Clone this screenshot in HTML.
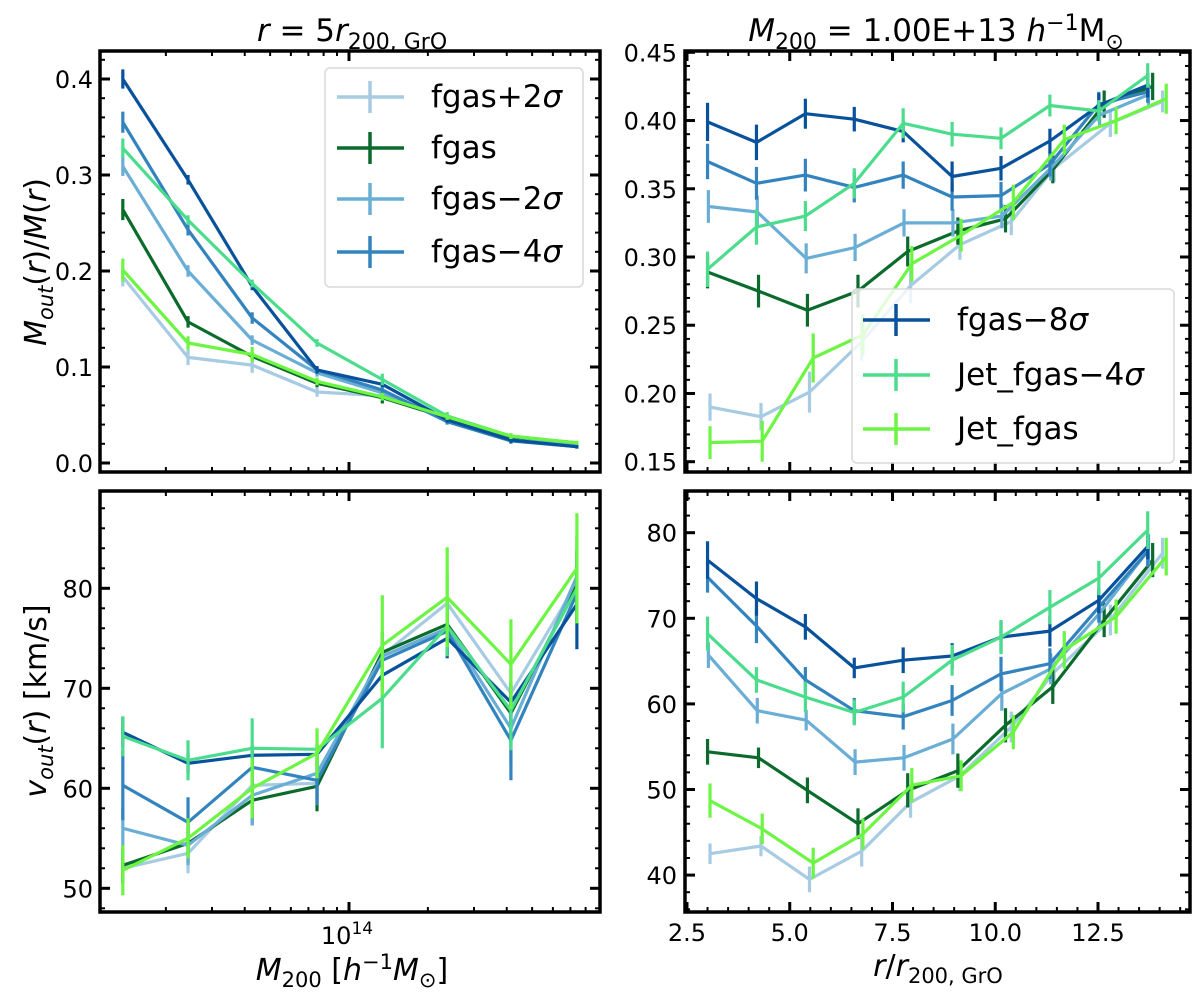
<!DOCTYPE html>
<html><head><meta charset="utf-8">
<style>
html,body{margin:0;padding:0;background:#fff;}
svg{display:block;font-family:"DejaVu Sans","Liberation Sans",sans-serif;}
</style></head>
<body>
<svg id="fig" width="1200" height="1002" viewBox="0 0 1200 1002" xmlns="http://www.w3.org/2000/svg">
<g id="layer-data"></g>
<g id="layer-axes"></g>
<g id="layer-text">
  <text x="352" y="41" font-size="31" text-anchor="middle"><tspan font-style="italic">r</tspan> = 5<tspan font-style="italic">r</tspan><tspan font-size="22" dy="8">200, GrO</tspan></text>
  <text x="936" y="41" font-size="31" text-anchor="middle"><tspan font-style="italic">M</tspan><tspan font-size="22" dy="8">200</tspan><tspan dy="-8"> = 1.00E+13 </tspan><tspan font-style="italic">h</tspan><tspan font-size="22" dy="-11">−1</tspan><tspan dy="11">M</tspan><tspan font-size="22" dy="8">⊙</tspan></text>
  <text transform="translate(46,262) rotate(-90)" font-size="30" text-anchor="middle"><tspan font-style="italic">M</tspan><tspan font-style="italic" font-size="21" dy="7">out</tspan><tspan dy="-7">(</tspan><tspan font-style="italic">r</tspan>)/<tspan font-style="italic">M</tspan>(<tspan font-style="italic">r</tspan>)</text>
  <text transform="translate(46,701) rotate(-90)" font-size="30" text-anchor="middle"><tspan font-style="italic">v</tspan><tspan font-style="italic" font-size="21" dy="7">out</tspan><tspan dy="-7">(</tspan><tspan font-style="italic">r</tspan>) [km/s]</text>
  <text x="352" y="980" font-size="30" text-anchor="middle"><tspan font-style="italic">M</tspan><tspan font-size="21" dy="7">200</tspan><tspan dy="-7"> [</tspan><tspan font-style="italic">h</tspan><tspan font-size="21" dy="-11">−1</tspan><tspan dy="11" font-style="italic">M</tspan><tspan font-size="21" dy="7">⊙</tspan><tspan dy="-7">]</tspan></text>
  <text x="938" y="976" font-size="30" text-anchor="middle"><tspan font-style="italic">r</tspan>/<tspan font-style="italic">r</tspan><tspan font-size="21" dy="7">200, GrO</tspan></text>
</g>
</svg>
<script>
// ---------- data ----------
const seriesBase = ["fgas+2","fgas","fgas−2","fgas−4","fgas−8","Jet_fgas−4","Jet_fgas"];
const seriesSigma = [true,false,true,true,true,true,false];
const seriesColors = ["#a6cbe3","#0b6b2c","#6aaed6","#3383be","#08529c","#4bdc8c","#6cf542"];

// mass bins (units of 1e13 h^-1 Msun)
const massBins = [1.37,2.43,4.27,7.55,13.4,23.7,41.5,74.1];

// top-left: Mout/M at r=5 r200
const tlFgasP2 = [0.194,0.110,0.102,0.074,0.070,0.047,0.026,0.020];
const tlFgas   = [0.264,0.147,0.111,0.083,0.068,0.047,0.027,0.021];
const tlFgasM2 = [0.309,0.200,0.128,0.094,0.073,0.045,0.024,0.019];
const tlFgasM4 = [0.355,0.243,0.151,0.097,0.076,0.043,0.023,0.017];
const tlFgasM8 = [0.400,0.295,0.184,0.097,0.082,0.045,0.024,0.017];
const tlJetM4  = [0.328,0.253,0.187,0.125,0.087,0.049,0.028,0.021];
const tlJet    = [0.201,0.125,0.113,0.085,0.069,0.048,0.028,0.021];
const tlErrP2 = [0.010,0.008,0.008,0.005,0.004,0.004,0.003,0.002];
const tlErr   = [0.011,0.006,0.004,0.004,0.006,0.003,0.002,0.002];
const tlErrM2 = [0.010,0.006,0.005,0.004,0.003,0.003,0.002,0.002];
const tlErrM4 = [0.011,0.006,0.006,0.003,0.003,0.003,0.003,0.002];
const tlErrM8 = [0.010,0.005,0.004,0.004,0.003,0.003,0.003,0.002];
const tlErrJ4 = [0.010,0.005,0.004,0.004,0.006,0.004,0.003,0.002];
const tlErrJ  = [0.012,0.007,0.008,0.004,0.004,0.003,0.003,0.002];

// top-right: Mout/M vs radius for M200=1e13
const trXFgasP2 = [3.06,4.30,5.48,6.75,7.94,9.14,10.39,11.43,12.80,14.07];
const trXFgas   = [3.00,4.24,5.43,6.66,7.87,9.09,10.25,11.40,12.65,13.83];
const trXFgasM2 = [3.02,4.21,5.40,6.59,7.78,8.97,10.16,11.35,12.54,13.73];
const trXBase   = [3.00,4.19,5.38,6.57,7.76,8.95,10.14,11.33,12.52,13.71];
const trXJet    = [3.06,4.33,5.57,6.78,7.97,9.17,10.44,11.68,12.94,14.16];
const trFgasP2 = [0.190,0.183,0.201,0.238,0.279,0.309,0.326,0.365,0.398,0.414];
const trFgas   = [0.289,0.275,0.261,0.275,0.304,0.319,0.328,0.364,0.412,0.425];
const trFgasM2 = [0.337,0.333,0.299,0.307,0.325,0.325,0.330,0.365,0.404,0.419];
const trFgasM4 = [0.370,0.354,0.360,0.351,0.360,0.344,0.345,0.368,0.412,0.421];
const trFgasM8 = [0.399,0.384,0.405,0.401,0.392,0.359,0.365,0.385,0.411,0.426];
const trJetM4  = [0.291,0.322,0.330,0.354,0.398,0.390,0.387,0.411,0.407,0.433];
const trJet    = [0.164,0.165,0.226,0.243,0.295,0.316,0.340,0.386,0.400,0.416];
const trErrP2 = [0.010,0.010,0.015,0.014,0.013,0.011,0.010,0.010,0.010,0.008];
const trErr   = [0.012,0.012,0.012,0.012,0.011,0.010,0.010,0.010,0.010,0.010];
const trErrM2 = [0.012,0.012,0.011,0.010,0.010,0.010,0.009,0.009,0.009,0.008];
const trErrM4 = [0.013,0.012,0.012,0.011,0.010,0.010,0.010,0.009,0.009,0.008];
const trErrM8 = [0.014,0.013,0.011,0.009,0.008,0.011,0.009,0.009,0.009,0.009];
const trErrJ4 = [0.013,0.013,0.011,0.011,0.011,0.009,0.008,0.008,0.008,0.009];
const trErrJ  = [0.012,0.015,0.018,0.015,0.013,0.012,0.013,0.011,0.010,0.011];

// bottom-left: vout vs mass
const blFgasP2 = [52.0,53.5,60.3,60.5,73.3,78.5,69.5,80.5];
const blFgas   = [52.3,54.5,58.8,60.2,73.6,76.4,67.5,80.3];
const blFgasM2 = [56.0,54.3,59.3,61.5,73.2,76.0,66.0,81.2];
const blFgasM4 = [60.3,56.6,62.1,60.8,72.8,75.7,64.8,79.5];
const blFgasM8 = [65.6,62.5,63.3,63.4,71.3,75.0,68.6,78.4];
const blJetM4  = [65.2,62.8,64.0,63.9,69.0,76.2,67.8,80.0];
const blJet    = [51.8,55.0,60.0,63.5,74.3,79.1,72.4,82.0];
const blErrP2 = [1.5,2.0,2.5,2.0,2.5,3.0,3.0,3.0];
const blErr   = [1.8,2.0,2.5,2.5,2.0,2.5,3.0,3.5];
const blErrM2 = [2.0,2.0,3.0,2.5,2.0,2.5,3.5,4.0];
const blErrM4 = [3.5,2.5,2.0,2.5,2.0,2.5,4.0,3.0];
const blErrM8 = [1.5,1.0,1.0,1.0,1.5,2.0,2.0,4.5];
const blErrJ4 = [2.0,2.0,3.0,1.5,5.0,3.0,4.0,3.5];
const blErrJ  = [2.5,2.0,3.0,2.5,5.0,5.0,4.5,5.5];

// bottom-right: vout vs radius
const brFgasP2 = [42.5,43.4,39.5,42.8,48.5,51.6,57.3,63.7,69.8,77.6];
const brFgas   = [54.4,53.7,49.9,46.0,49.9,52.2,57.5,62.0,69.8,76.8];
const brFgasM2 = [65.7,59.2,58.1,53.2,53.7,55.9,61.2,64.1,70.6,78.0];
const brFgasM4 = [74.8,69.1,62.8,59.2,58.5,60.4,63.5,64.7,71.3,77.8];
const brFgasM8 = [76.8,72.3,69.0,64.2,65.1,65.6,67.8,68.5,72.1,78.4];
const brJetM4  = [68.2,62.8,60.8,59.0,60.8,65.1,67.8,71.3,74.7,80.3];
const brJet    = [48.7,45.4,41.4,44.8,50.5,51.6,56.7,66.3,70.2,77.2];
const brErrP2 = [1.2,1.2,1.5,1.8,1.8,1.8,1.8,1.8,1.8,1.8];
const brErr   = [1.5,1.2,1.5,1.8,2.0,2.0,2.0,2.0,2.0,2.0];
const brErrM2 = [1.5,1.5,1.2,1.5,1.5,1.8,2.0,1.8,1.8,1.8];
const brErrM4 = [1.8,2.0,1.5,1.5,1.5,1.8,2.0,1.8,1.8,1.8];
const brErrM8 = [2.2,2.0,1.5,1.2,1.5,1.5,1.8,1.8,1.5,1.5];
const brErrJ4 = [2.0,1.5,1.8,1.5,1.8,1.8,2.0,2.0,2.0,2.2];
const brErrJ  = [2.0,1.8,1.8,1.8,2.0,1.8,2.0,2.2,2.0,2.2];

// tick labels
const tlYTicks = [0.0,0.1,0.2,0.3,0.4];
const tlYLabels = ["0.0","0.1","0.2","0.3","0.4"];
const trYTicks = [0.15,0.20,0.25,0.30,0.35,0.40,0.45];
const trYLabels = ["0.15","0.20","0.25","0.30","0.35","0.40","0.45"];
const blYTicks = [50,60,70,80];
const blYLabels = ["50","60","70","80"];
const brYTicks = [40,50,60,70,80];
const brYLabels = ["40","50","60","70","80"];
const rXTicks = [2.5,5.0,7.5,10.0,12.5];
const rXLabels = ["2.5","5.0","7.5","10.0","12.5"];

// ---------- geometry / scales ----------
const NS = "http://www.w3.org/2000/svg";
const LX0 = 100, LX1 = 600, RX0 = 685, RX1 = 1190;
const TY0 = 51, TY1 = 472, BY0 = 491, BY1 = 912;

function xMass(m){ return 349 + (Math.log10(m*1e13) - 14) * 262; }
function xRad(v){ return 687 + (v - 2.5) * 41.1; }
function yTL(v){ return 79 + (0.4 - v) * 960; }
function yTR(v){ return 52.3 + (0.45 - v) * 1364.7; }
function yBL(v){ return 588.3 + (80 - v) * 10; }
function yBR(v){ return 532.7 + (80 - v) * 8.56; }

const dataLayer = document.getElementById("layer-data");
const axesLayer = document.getElementById("layer-axes");

function mk(tag, attrs, parent){
  const e = document.createElementNS(NS, tag);
  for (const k in attrs) e.setAttribute(k, attrs[k]);
  parent.appendChild(e);
  return e;
}

function drawSeries(panel, xs, ys, errs, color, xf, yf, name){
  const g = mk("g", {}, dataLayer);
  
  
  let d = "";
  for (let i = 0; i < ys.length; i++){
    d += (i ? "L" : "M") + xf(xs[i]).toFixed(1) + "," + yf(ys[i]).toFixed(1);
  }
  const p = mk("path", {d: d, fill: "none", stroke: color, "stroke-width": 3.2, "stroke-linejoin": "round"}, g);
  
  
  for (let i = 0; i < ys.length; i++){
    const x = xf(xs[i]);
    const l = mk("line", {x1: x, x2: x, y1: yf(ys[i] - errs[i]), y2: yf(ys[i] + errs[i]), stroke: color, "stroke-width": 3.2}, g);
    
    
  }
}

const tlData = [tlFgasP2,tlFgas,tlFgasM2,tlFgasM4,tlFgasM8,tlJetM4,tlJet];
const tlErrs = [tlErrP2,tlErr,tlErrM2,tlErrM4,tlErrM8,tlErrJ4,tlErrJ];
const trData = [trFgasP2,trFgas,trFgasM2,trFgasM4,trFgasM8,trJetM4,trJet];
const trErrs = [trErrP2,trErr,trErrM2,trErrM4,trErrM8,trErrJ4,trErrJ];
const trXs = [trXFgasP2,trXFgas,trXFgasM2,trXBase,trXBase,trXBase,trXJet];
const blData = [blFgasP2,blFgas,blFgasM2,blFgasM4,blFgasM8,blJetM4,blJet];
const blErrs = [blErrP2,blErr,blErrM2,blErrM4,blErrM8,blErrJ4,blErrJ];
const brData = [brFgasP2,brFgas,brFgasM2,brFgasM4,brFgasM8,brJetM4,brJet];
const brErrs = [brErrP2,brErr,brErrM2,brErrM4,brErrM8,brErrJ4,brErrJ];

for (let s = 0; s < 7; s++){
  const nm = seriesBase[s].replace(/[^A-Za-z0-9]+/g,'-').toLowerCase() + '-' + s;
  drawSeries('top-left', massBins, tlData[s], tlErrs[s], seriesColors[s], xMass, yTL, nm);
  drawSeries('top-right', trXs[s], trData[s], trErrs[s], seriesColors[s], xRad, yTR, nm);
  drawSeries('bottom-left', massBins, blData[s], blErrs[s], seriesColors[s], xMass, yBL, nm);
  drawSeries('bottom-right', trXs[s], brData[s], brErrs[s], seriesColors[s], xRad, yBR, nm);
}

// ---------- axes ----------
function frame(x0,y0,x1,y1,name){
  const r = mk("rect", {x:x0, y:y0, width:x1-x0, height:y1-y0, fill:"none", stroke:"#000", "stroke-width":3.5}, axesLayer);
  
  
}
function hTicks(x0,x1,y0,y1,positions,len){
  for (const x of positions){
    if (x < x0+1 || x > x1-1) continue;
    mk("line",{x1:x,x2:x,y1:y1,y2:y1-len,stroke:"#000","stroke-width":len>6?3:2},axesLayer);
    mk("line",{x1:x,x2:x,y1:y0,y2:y0+len,stroke:"#000","stroke-width":len>6?3:2},axesLayer);
  }
}
function vTicks(x0,x1,y0,y1,positions,len){
  for (const y of positions){
    if (y < y0+1 || y > y1-1) continue;
    mk("line",{x1:x0,x2:x0+len,y1:y,y2:y,stroke:"#000","stroke-width":len>6?3:2},axesLayer);
    mk("line",{x1:x1,x2:x1-len,y1:y,y2:y,stroke:"#000","stroke-width":len>6?3:2},axesLayer);
  }
}
function label(x,y,txt,anchor,name){
  const t = mk("text",{x:x,y:y,"font-size":24,"text-anchor":anchor,fill:"#000"},axesLayer);
  t.textContent = txt;
  
  
  return t;
}

// log x ticks
const logMinor = [];
for (const dec of [1e13,1e14]) for (let k = 2; k <= 9; k++) logMinor.push(xMass(k*dec/1e13));
const logMajor = [xMass(10)];
for (const [y0,y1] of [[TY0,TY1],[BY0,BY1]]){
  hTicks(LX0,LX1,y0,y1,logMinor,5);
  hTicks(LX0,LX1,y0,y1,logMajor,10);
}
// radius x ticks
const rMinor = [], rMajor = rXTicks.map(xRad);
for (let v = 2.5; v <= 15; v += 0.5) rMinor.push(xRad(v));
for (const [y0,y1] of [[TY0,TY1],[BY0,BY1]]){
  hTicks(RX0,RX1,y0,y1,rMinor,5);
  hTicks(RX0,RX1,y0,y1,rMajor,10);
}
// y ticks
const tlMinor = []; for (let v = -0.02; v <= 0.44; v += 0.02) tlMinor.push(yTL(v));
vTicks(LX0,LX1,TY0,TY1,tlMinor,5); vTicks(LX0,LX1,TY0,TY1,tlYTicks.map(yTL),10);
const trMinor = []; for (let v = 0.14; v <= 0.46; v += 0.01) trMinor.push(yTR(v));
vTicks(RX0,RX1,TY0,TY1,trMinor,5); vTicks(RX0,RX1,TY0,TY1,trYTicks.map(yTR),10);
const blMinor = []; for (let v = 48; v <= 90; v += 2) blMinor.push(yBL(v));
vTicks(LX0,LX1,BY0,BY1,blMinor,5); vTicks(LX0,LX1,BY0,BY1,blYTicks.map(yBL),10);
const brMinor = []; for (let v = 36; v <= 86; v += 2) brMinor.push(yBR(v));
vTicks(RX0,RX1,BY0,BY1,brMinor,5); vTicks(RX0,RX1,BY0,BY1,brYTicks.map(yBR),10);

frame(LX0,TY0,LX1,TY1,'top-left-axes-frame');
frame(RX0,TY0,RX1,TY1,'top-right-axes-frame');
frame(LX0,BY0,LX1,BY1,'bottom-left-axes-frame');
frame(RX0,BY0,RX1,BY1,'bottom-right-axes-frame');

// tick labels
tlYTicks.forEach((v,i)=>label(93, yTL(v)+9, tlYLabels[i], "end", 'top-left-y-tick-label'));
trYTicks.forEach((v,i)=>label(677, yTR(v)+9, trYLabels[i], "end", 'top-right-y-tick-label'));
blYTicks.forEach((v,i)=>label(93, yBL(v)+9, blYLabels[i], "end", 'bottom-left-y-tick-label'));
brYTicks.forEach((v,i)=>label(677, yBR(v)+9, brYLabels[i], "end", 'bottom-right-y-tick-label'));
rXTicks.forEach((v,i)=>label(xRad(v), 941, rXLabels[i], "middle", 'bottom-right-x-tick-label'));
{
  const t = mk("text",{x:xMass(10)-2,y:944,"font-size":24,"text-anchor":"middle"},axesLayer);
  
  
  const a = mk("tspan",{},t); a.textContent = "10";
  const b = mk("tspan",{"font-size":17,dy:-10},t); b.textContent = "14";
}

// ---------- legends ----------
function legend(x,y,w,h,entries,name,rowY,handleX0,textX){
  const g = mk("g",{},axesLayer);
  
  
  mk("rect",{x:x,y:y,width:w,height:h,rx:5,fill:"#fff","fill-opacity":0.8,stroke:"#d9d9d9","stroke-width":1.5},g);
  entries.forEach((s,i)=>{
    const e = mk("g",{},g);
    
    
    const yy = rowY[i];
    mk("line",{x1:handleX0,x2:handleX0+67,y1:yy,y2:yy,stroke:seriesColors[s],"stroke-width":3.5},e);
    mk("line",{x1:handleX0+33,x2:handleX0+33,y1:yy-16,y2:yy+16,stroke:seriesColors[s],"stroke-width":3.5},e);
    const t = mk("text",{x:textX,y:yy+10,"font-size":31},e);
    const a = mk("tspan",{},t); a.textContent = seriesBase[s];
    if (seriesSigma[s]){ const b = mk("tspan",{"font-style":"italic"},t); b.textContent = "σ"; }
  });
}
legend(325,68,258,219,[0,1,2,3],'legend-top-left',[97,148,199,252],337,431);
legend(852,289,322,174,[4,5,6],'legend-top-right',[320,375,429],863,957);
</script>
</body></html>
